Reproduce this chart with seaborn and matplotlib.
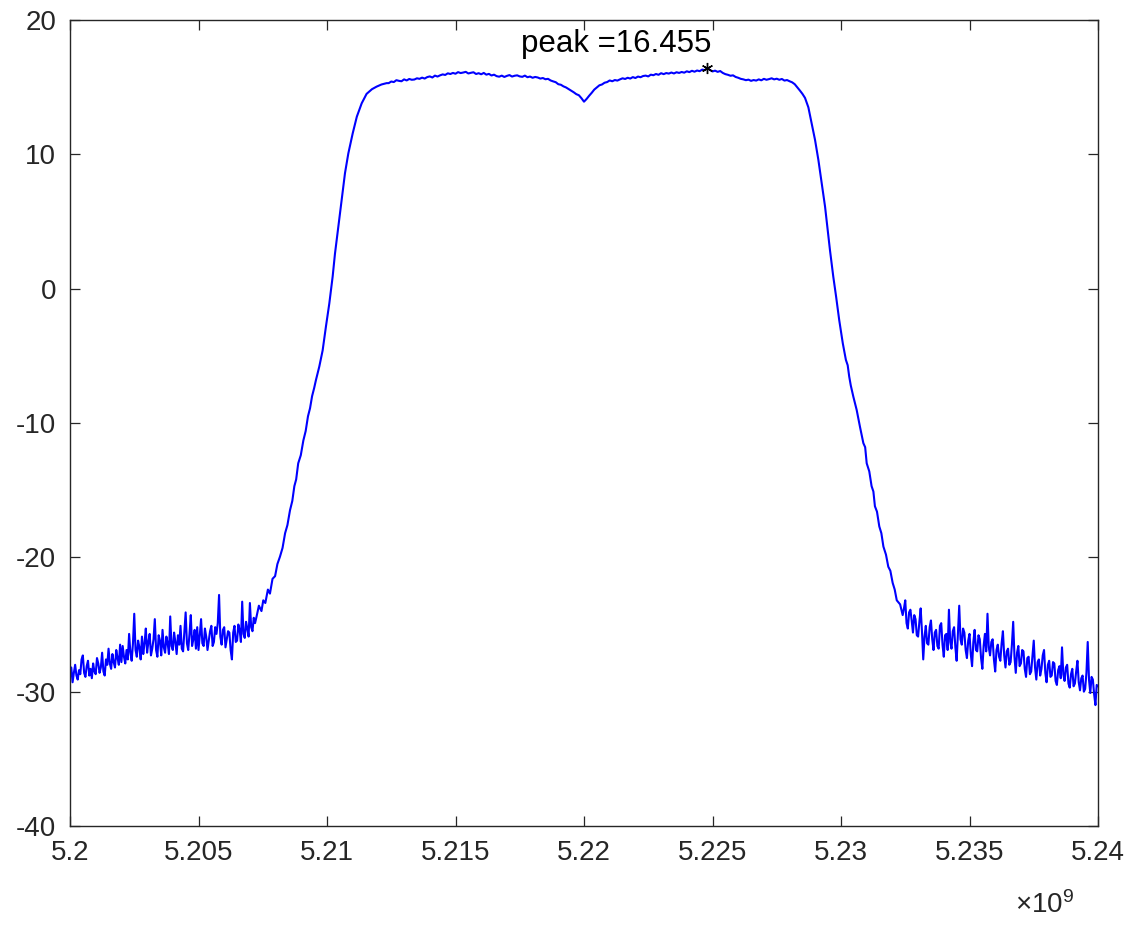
import numpy as np
import pandas as pd
import matplotlib
matplotlib.use("Agg")
import matplotlib.pyplot as plt
import seaborn as sns

# ---- spectrum data (frequency offsets in MHz above 5.2 GHz, power in dB) ----
F0_HZ = 5.2e9

# lower out-of-band floor, 0.0 .. 7.2 MHz in 0.05 MHz steps
left_tail_start, left_tail_step = 0.0, 0.05
left_tail_db = [
    -28.9, -28.2, -29.3, -28.6, -28.0, -28.8, -29.1, -28.4, -28.7, -27.6,
    -27.3, -28.6, -28.9, -28.1, -27.7, -28.8, -28.3, -29.0, -27.9, -28.5,
    -28.7, -27.5, -27.9, -28.6, -28.2, -27.1, -28.5, -28.8, -27.6, -28.0,
    -26.8, -27.9, -28.3, -27.2, -27.8, -28.2, -26.9, -27.5, -28.0, -26.5,
    -27.8, -26.6, -27.4, -27.9, -26.9, -27.6, -25.7, -27.1, -27.7, -26.4,
    -24.2, -26.9, -27.4, -26.2, -26.7, -27.6, -25.9, -27.2, -26.4, -25.3,
    -27.1, -26.3, -25.7, -27.3, -26.8, -26.1, -24.6, -26.9, -27.4, -25.8,
    -26.2, -27.3, -25.4, -26.7, -27.1, -25.9, -26.4, -27.2, -24.4, -26.6,
    -26.9, -25.6, -26.3, -27.2, -25.8, -26.5, -25.1, -26.8, -27.0, -25.5,
    -24.1, -26.4, -26.9, -25.7, -24.3, -26.6, -26.1, -25.4, -26.8, -25.2,
    -26.9, -25.8, -24.6, -26.4, -26.6, -25.3, -25.9, -26.9, -26.2, -25.5,
    -25.1, -26.6, -26.3, -25.2, -25.7, -24.9, -22.8, -25.9, -26.5, -25.4,
    -25.2, -26.7, -26.1, -25.5, -25.6, -26.9, -27.6, -25.6, -25.1, -26.3,
    -26.2, -25.0, -25.4, -26.3, -23.3, -25.7, -26.0, -24.8, -25.3, -25.9,
    -23.4, -25.2, -25.5, -24.5, -24.9,
]

# rising skirt
left_edge_mhz = [
    7.26, 7.35, 7.45, 7.52, 7.60, 7.70, 7.78, 7.88, 7.98, 8.07,
    8.17, 8.27, 8.37, 8.46, 8.56, 8.65, 8.73, 8.80, 8.88, 8.98,
    9.08, 9.17, 9.26, 9.34, 9.42, 9.50, 9.57, 9.70, 9.83, 9.90,
    9.96, 10.09, 10.22, 10.31, 10.44, 10.57, 10.70, 10.83, 11.00, 11.16,
    11.35, 11.54, 11.75, 11.93, 12.12, 12.32,
]
left_edge_db = [
    -24.4, -23.6, -24.0, -23.2, -23.4, -22.4, -22.7, -21.6, -21.4, -20.5,
    -19.95, -19.3, -18.2, -17.6, -16.5, -15.8, -14.7, -14.2, -13.0, -12.4,
    -11.3, -10.6, -9.5, -8.9, -8.0, -7.4, -6.8, -5.8, -4.6, -3.6,
    -2.8, -1.1, 0.9, 2.6, 4.6, 6.6, 8.6, 10.07, 11.56, 12.8,
    13.8, 14.5, 14.85, 15.04, 15.2, 15.3,
]

# in-band, 12.4 .. 28.2 MHz in 0.1 MHz steps
band_start, band_step = 12.4, 0.1
band_db = [
    15.30, 15.42, 15.38, 15.52, 15.47, 15.44, 15.58, 15.50, 15.61, 15.55,
    15.57, 15.66, 15.62, 15.71, 15.64, 15.75, 15.80, 15.72, 15.86, 15.79,
    15.88, 15.95, 15.91, 16.03, 15.98, 16.06, 16.00, 16.12, 16.05, 16.09,
    16.14, 16.02, 16.07, 16.11, 15.98, 16.04, 15.96, 16.06, 15.93, 15.99,
    15.87, 15.93, 15.82, 15.78, 15.86, 15.76, 15.84, 15.90, 15.79, 15.85,
    15.88, 15.80, 15.77, 15.86, 15.74, 15.79, 15.70, 15.76, 15.72, 15.64,
    15.68, 15.59, 15.62, 15.50, 15.43, 15.37, 15.22, 15.18, 15.06, 14.98,
    14.86, 14.74, 14.62, 14.48, 14.40, 14.18, 13.92, 14.12, 14.36, 14.58,
    14.82, 14.98, 15.14, 15.20, 15.33, 15.38, 15.50, 15.44, 15.53, 15.49,
    15.58, 15.66, 15.61, 15.70, 15.64, 15.75, 15.68, 15.79, 15.74, 15.83,
    15.86, 15.80, 15.93, 15.89, 15.98, 15.92, 16.04, 15.97, 16.05, 16.01,
    16.09, 16.02, 16.11, 16.06, 16.13, 16.08, 16.18, 16.12, 16.22, 16.15,
    16.24, 16.19, 16.31, 16.26, 16.455, 16.28, 16.17, 16.23, 16.14, 16.20,
    16.06, 15.97, 15.92, 15.85, 15.88, 15.76, 15.70, 15.62, 15.58, 15.52,
    15.56, 15.47, 15.53, 15.49, 15.58, 15.51, 15.62, 15.55, 15.60, 15.66,
    15.58, 15.63, 15.55, 15.61, 15.49, 15.53, 15.44, 15.36, 15.22,
]

# falling skirt
right_edge_mhz = [
    28.40, 28.50, 28.60, 28.73, 28.86, 28.99, 29.12, 29.25, 29.38, 29.47,
    29.57, 29.70, 29.81, 29.93, 30.07, 30.19, 30.26, 30.32, 30.38, 30.48,
    30.61, 30.74, 30.87, 30.94, 31.00, 31.10, 31.19, 31.26, 31.32, 31.40,
    31.49, 31.57, 31.65, 31.75, 31.84, 31.92, 32.01, 32.09, 32.17, 32.30,
]
right_edge_db = [
    14.75, 14.5, 14.2, 13.5, 12.3, 11.07, 9.58, 7.84, 6.1, 4.6,
    2.88, 0.89, -0.6, -2.33, -4.07, -5.3, -5.7, -6.55, -7.2, -8.04,
    -9.03, -10.3, -11.5, -11.8, -13.0, -13.6, -14.7, -15.1, -16.2, -16.6,
    -17.7, -18.2, -19.2, -19.8, -20.7, -21.0, -21.9, -22.4, -23.2, -23.5,
]

# upper out-of-band floor, 32.4 .. 40.0 MHz in 0.05 MHz steps
right_tail_start, right_tail_step = 32.4, 0.05
right_tail_db = [
    -24.3, -23.8, -23.2, -24.9, -25.3, -24.1, -23.9, -24.7, -25.6, -24.3,
    -24.6, -25.8, -25.9, -24.8, -23.8, -25.5, -27.6, -25.9, -25.1, -26.4,
    -26.5, -25.2, -24.7, -26.1, -26.9, -25.6, -25.4, -26.6, -26.8, -25.1,
    -24.9, -26.5, -27.4, -25.8, -25.7, -26.9, -23.9, -26.3, -26.8, -25.5,
    -25.2, -26.7, -27.7, -25.6, -23.6, -26.1, -26.5, -25.3, -25.6, -26.9,
    -27.5, -26.2, -25.7, -27.2, -28.1, -26.3, -25.4, -26.9, -27.0, -25.8,
    -26.1, -27.5, -28.3, -26.6, -25.7, -27.0, -24.2, -26.7, -27.3, -26.3,
    -26.1, -27.6, -28.5, -26.9, -26.5, -27.4, -27.7, -26.4, -25.5, -27.3,
    -28.2, -27.0, -26.8, -28.0, -27.8, -26.5, -24.8, -27.4, -28.6, -27.1,
    -26.6, -28.1, -27.9, -26.9, -27.0, -28.3, -28.9, -27.5, -27.4, -28.7,
    -28.5, -27.3, -26.2, -28.2, -29.1, -27.8, -27.6, -28.8, -28.3, -27.3,
    -26.9, -28.6, -29.3, -28.0, -27.7, -28.9, -28.8, -27.8, -27.9, -29.2,
    -29.5, -28.4, -28.1, -29.0, -26.7, -28.7, -29.2, -28.2, -28.0, -29.4,
    -29.7, -28.7, -28.3, -29.6, -29.4, -28.5, -27.7, -29.3, -29.9, -29.0,
    -28.8, -30.0, -29.8, -28.6, -26.3, -29.1, -30.1, -28.9, -29.1, -30.2,
    -31.0, -29.5, -29.6,
]

x_ticks_hz = [5.2e9, 5.205e9, 5.21e9, 5.215e9, 5.22e9, 5.225e9, 5.23e9, 5.235e9, 5.24e9]
x_tick_labels = ["5.2", "5.205", "5.21", "5.215", "5.22", "5.225", "5.23", "5.235", "5.24"]
y_ticks = [-40, -30, -20, -10, 0, 10, 20]


def grid(start, step, values):
    return list(start + step * np.arange(len(values)))


freq_mhz = (grid(left_tail_start, left_tail_step, left_tail_db)
            + left_edge_mhz
            + grid(band_start, band_step, band_db)
            + right_edge_mhz
            + grid(right_tail_start, right_tail_step, right_tail_db))
power_db = left_tail_db + left_edge_db + band_db + right_edge_db + right_tail_db

spec = pd.DataFrame({"freq": F0_HZ + np.array(freq_mhz) * 1e6, "power": power_db})

# ---- styling ----
sns.set_theme(style="white")
plt.rcParams["font.family"] = ["Liberation Sans", "DejaVu Sans"]
plt.rcParams["axes.unicode_minus"] = False
plt.rcParams["mathtext.fontset"] = "custom"
plt.rcParams["mathtext.rm"] = "Liberation Sans"
plt.rcParams["mathtext.it"] = "Liberation Sans:italic"

AX_COLOR = "#262626"
FS = 20

fig = plt.figure(figsize=(11.38, 9.33), dpi=100)
ax = fig.add_axes([70 / 1138, 107 / 933, 1028 / 1138, 806 / 933])

sns.lineplot(data=spec, x="freq", y="power", color="#0000ff", linewidth=1.5,
             estimator=None, errorbar=None, sort=False, ax=ax)

# peak marker and label
i_peak = int(np.argmax(spec["power"].values))
f_peak = spec["freq"].iloc[i_peak]
p_peak = spec["power"].iloc[i_peak]
ax.plot([f_peak], [p_peak], linestyle="none", marker=(6, 2, 0), markersize=8,
        markeredgewidth=1.0, color="black")
ax.annotate(f"peak ={p_peak:.3f}", xy=(f_peak, p_peak), xytext=(3, 11),
            textcoords="offset points", ha="right", va="baseline",
            fontsize=22.5, color="black")

ax.set_xlim(5.2e9, 5.24e9)
ax.set_ylim(-40, 20)
ax.set_xticks(x_ticks_hz)
ax.set_xticklabels(x_tick_labels)
ax.set_yticks(y_ticks)
ax.set_xlabel("")
ax.set_ylabel("")

for side in ["left", "right", "top", "bottom"]:
    ax.spines[side].set_visible(True)
    ax.spines[side].set_color(AX_COLOR)
    ax.spines[side].set_linewidth(1.0)

ax.tick_params(axis="both", which="major", direction="in", length=7, width=0.9,
               color=AX_COLOR, labelcolor=AX_COLOR, labelsize=FS,
               top=True, right=True, bottom=True, left=True, pad=10)

ax.text(0.977, -0.098, r"$\times10^{9}$", transform=ax.transAxes,
        ha="right", va="center", fontsize=FS, color=AX_COLOR)

fig.savefig("out.png", dpi=100, facecolor="white")
